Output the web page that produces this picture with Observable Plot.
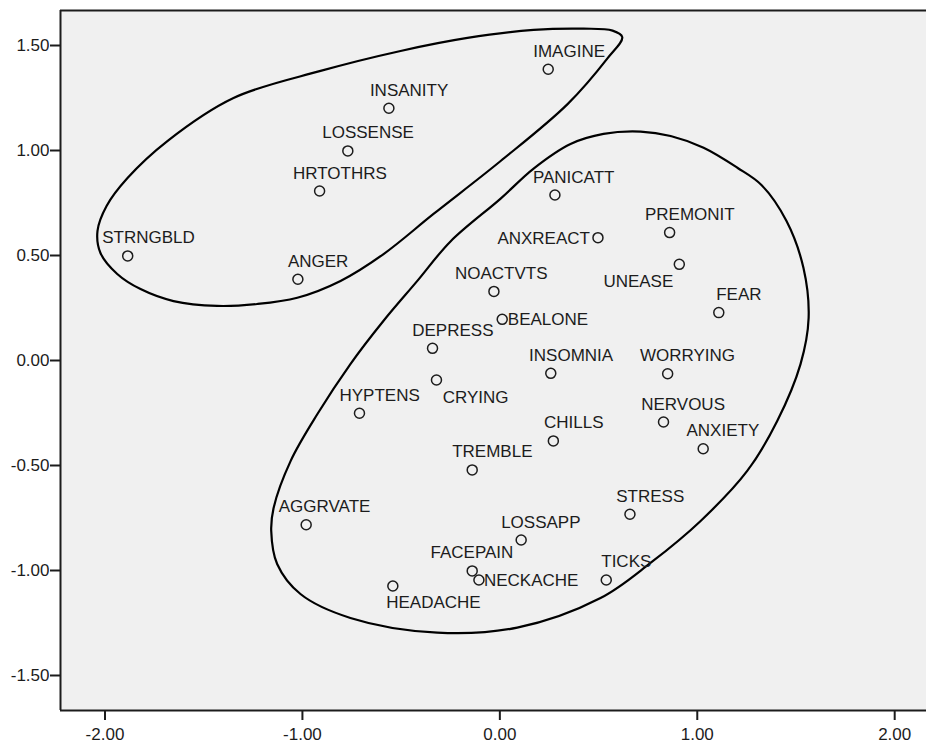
<!DOCTYPE html>
<html>
<head>
<meta charset="utf-8">
<script src="https://cdn.jsdelivr.net/npm/d3@7"></script>
<script src="https://cdn.jsdelivr.net/npm/@observablehq/plot@0.6"></script>
<style>
  body { margin: 0; background: #ffffff; overflow: hidden; }
  #chart svg { display: block; }
</style>
</head>
<body>
<div id="chart"></div>
<script>
// Two-dimensional configuration of symptom items
const names = ["STRNGBLD","ANGER","HRTOTHRS","LOSSENSE","INSANITY","IMAGINE","PANICATT","ANXREACT",
  "PREMONIT","UNEASE","NOACTVTS","FEAR","BEALONE","DEPRESS","INSOMNIA","WORRYING","CRYING","HYPTENS",
  "NERVOUS","CHILLS","ANXIETY","TREMBLE","STRESS","AGGRVATE","LOSSAPP","FACEPAIN","NECKACHE","TICKS","HEADACHE"];
const dim1 = [-1.885,-1.023,-0.913,-0.770,-0.562,0.245,0.279,0.497,
  0.860,0.909,-0.030,1.109,0.012,-0.341,0.258,0.850,-0.321,-0.711,
  0.829,0.271,1.030,-0.140,0.659,-0.981,0.108,-0.140,-0.106,0.539,-0.542];
const dim2 = [0.498,0.387,0.807,0.998,1.201,1.387,0.788,0.585,
  0.609,0.458,0.329,0.228,0.196,0.058,-0.061,-0.063,-0.093,-0.251,
  -0.293,-0.383,-0.420,-0.521,-0.732,-0.782,-0.855,-1.002,-1.045,-1.045,-1.074];

// Label placement around each point: anchor, horizontal offset, baseline offset (px)
const labelAnchor = ["start","start","start","start","start","start","start","end",
  "start","end","start","start","start","start","start","start","start","start",
  "start","start","start","start","start","start","start","start","start","start","start"];
const labelDx = [-25.5,-10,-26.6,-25.6,-19,-15,-22,-8,
  -24.7,-6,-39,-2.6,5.6,-20.3,-21.7,-27.7,6.3,-20,
  -22.3,-9.3,-16.7,-20,-13.7,-27.4,-20,-41.7,5,-5,-6.6];
const labelDy = [-12.5,-12.5,-12.5,-12.5,-12.5,-12.5,-12.5,6,
  -12.5,22.7,-12.5,-12.5,6,-12.5,-12.5,-12.5,22.7,-12.5,
  -12.5,-12.5,-12.5,-12.5,-12.5,-12.5,-12.5,-12.5,6,-12.5,22.3];

// Hand-drawn cluster outlines (closed curves in configuration coordinates)
const outlineUpperX = [0.620,0.571,0.424,0.171,-0.164,-0.503,-0.908,-1.349,-1.684,-1.886,-1.992,-2.038,-2.023,
  -1.938,-1.820,-1.653,-1.432,-1.229,-1.026,-0.807,-0.589,-0.336,0.004,0.343,0.546];
const outlineUpperY = [1.540,1.571,1.580,1.574,1.536,1.474,1.379,1.250,1.045,0.869,0.736,0.617,0.512,
  0.412,0.340,0.283,0.260,0.269,0.299,0.379,0.507,0.698,0.950,1.221,1.440];
const outlineLowerX = [0.713,0.865,1.032,1.203,1.325,1.452,1.538,1.564,1.523,1.405,1.253,1.017,0.763,0.510,
  0.088,-0.317,-0.757,-1.010,-1.128,-1.158,-1.146,-1.060,-0.924,-0.757,-0.590,-0.418,-0.250,0.004,0.171,0.358,0.525];
const outlineLowerY = [1.090,1.069,1.013,0.918,0.836,0.664,0.440,0.202,-0.017,-0.288,-0.526,-0.764,-0.964,-1.131,
  -1.272,-1.296,-1.226,-1.112,-0.969,-0.812,-0.702,-0.479,-0.255,-0.017,0.188,0.379,0.567,0.771,0.914,1.031,1.079];

const xTicks = [-2, -1, 0, 1, 2];
const yTicks = [-1.5, -1, -0.5, 0, 0.5, 1, 1.5];
const xDomain = [-2.2254, 2.1611];
const yDomain = [-1.6667, 1.6667];

const points = names.map((n, i) => ({name: n, x: dim1[i], y: dim2[i],
  anchor: labelAnchor[i], dx: labelDx[i], dy: labelDy[i]}));
const outlines = [
  ...outlineUpperX.map((x, i) => ({group: "upper", x, y: outlineUpperY[i]})),
  ...outlineLowerX.map((x, i) => ({group: "lower", x, y: outlineLowerY[i]}))
];

const ink = "#1c1c1c";
const fmt = d => d.toFixed(2);

const chart = Plot.plot({
  width: 926,
  height: 743,
  marginLeft: 60,
  marginRight: 0,
  marginTop: 10,
  marginBottom: 33,
  style: {fontFamily: "'Liberation Sans', Arial, sans-serif", fontSize: "17px", color: ink, background: "#ffffff"},
  x: {domain: xDomain},
  y: {domain: yDomain},
  marks: [
    Plot.frame({fill: "#f0f0f0", stroke: null}),
    Plot.line(outlines, {x: "x", y: "y", z: "group", curve: "catmull-rom-closed", stroke: "#000", strokeWidth: 2.2}),
    Plot.dot(points, {x: "x", y: "y", r: 5, stroke: ink, strokeWidth: 1.5, fill: "none"}),
    ...points.map(p => Plot.text([p], {x: "x", y: "y", text: "name", textAnchor: p.anchor,
      lineAnchor: "bottom", dx: p.dx, dy: p.dy, fill: ink, fontSize: 17})),
    Plot.axisX({ticks: xTicks, tickFormat: fmt, tickSize: 10, tickPadding: 7, strokeWidth: 2, stroke: ink, fill: ink, label: null, fontSize: 17}),
    Plot.axisY({ticks: yTicks, tickFormat: fmt, tickSize: 10, tickPadding: 1, strokeWidth: 2, stroke: ink, fill: ink, label: null, fontSize: 17}),
    Plot.ruleX([xDomain[0]], {stroke: ink, strokeWidth: 2}),
    Plot.ruleY([yDomain[0], yDomain[1]], {stroke: ink, strokeWidth: 2})
  ]
});
document.getElementById("chart").appendChild(chart);
</script>
</body>
</html>
